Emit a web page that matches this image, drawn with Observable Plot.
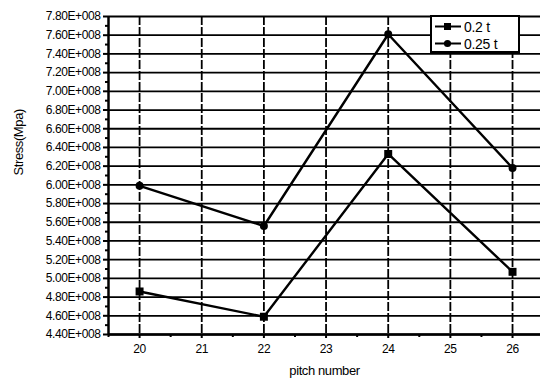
<!DOCTYPE html>
<html><head><meta charset="utf-8">
<script src="https://cdn.jsdelivr.net/npm/d3@7"></script>
<script src="https://cdn.jsdelivr.net/npm/@observablehq/plot@0.6"></script>
<style>
body{margin:0;background:#fff;font-family:"Liberation Sans",Arial,sans-serif;}
#wrap{position:relative;width:540px;height:384px;overflow:hidden;}
#wrap svg text{letter-spacing:-0.4px;}
#legend{position:absolute;left:430px;top:15px;width:90px;height:38px;background:#fff;border:2px solid #000;box-sizing:border-box;font-size:14px;padding:1px 0 0 2px;letter-spacing:-0.3px;}
#legend .row{display:flex;align-items:center;height:17px;}
#legend svg{margin-right:2px;}
</style></head><body>
<div id="wrap"><div id="legend"></div></div>
<script>
const pitch = [20, 22, 24, 26];
const series = ["0.2 t", "0.25 t"];
const stress02 = [4.86e8, 4.59e8, 6.33e8, 5.07e8];
const stress025 = [5.99e8, 5.56e8, 7.61e8, 6.18e8];
const yTicks = d3.range(4.4, 7.81, 0.2).map(v => Math.round(v * 10) / 10 * 1e8);
const yMinor = d3.range(4.5, 7.8, 0.2).map(v => Math.round(v * 10) / 10 * 1e8);
const xTicks = [20, 21, 22, 23, 24, 25, 26];
const xMinor = [19.5, 20.5, 21.5, 22.5, 23.5, 24.5, 25.5];

const rows = [];
pitch.forEach((p, i) => {
  rows.push({pitch: p, stress: stress02[i], s: series[0]});
  rows.push({pitch: p, stress: stress025[i], s: series[1]});
});
const fmt = v => (v / 1e8).toFixed(2) + "E+008";

const chart = Plot.plot({
  width: 540, height: 384,
  marginLeft: 108, marginRight: 0, marginTop: 16, marginBottom: 50,
  style: {fontFamily: "Liberation Sans, Arial, sans-serif", fontSize: "12px", background: "#fff", color: "#000"},
  x: {domain: [19.5, 26.45]},
  y: {domain: [4.4e8, 7.8e8]},
  marks: [
    Plot.ruleY(yTicks, {stroke: "#000", strokeWidth: 1.8}),
    Plot.ruleX(xTicks, {stroke: "#000", strokeWidth: 1.8, strokeDasharray: "9,2"}),
    Plot.ruleX([19.5], {stroke: "#000", strokeWidth: 2.5}),
    Plot.ruleY([4.4e8], {stroke: "#000", strokeWidth: 2.5}),
    Plot.axisY({ticks: yTicks, tickFormat: fmt, tickSize: 5, tickPadding: 3, label: null, fontSize: 12, strokeWidth: 2}),
    Plot.axisY({ticks: yMinor, tickSize: 3, text: null, label: null, strokeWidth: 2}),
    Plot.axisX({ticks: xTicks, tickFormat: d => String(d), tickSize: 4, tickPadding: 6, label: null, fontSize: 12, strokeWidth: 2}),
    Plot.axisX({ticks: xMinor, tickSize: 3, text: null, label: null, strokeWidth: 2}),
    Plot.text(["Stress(Mpa)"], {frameAnchor: "left", dx: -90, rotate: -90, fontSize: 13}),
    Plot.text(["pitch number"], {frameAnchor: "bottom", dy: 40, fontSize: 13}),
    Plot.line(rows, {x: "pitch", y: "stress", z: "s", stroke: "#000", strokeWidth: 2.4}),
    Plot.dot(rows.filter(d => d.s === series[0]), {x: "pitch", y: "stress", symbol: "square", r: 4.5, fill: "#000"}),
    Plot.dot(rows.filter(d => d.s === series[1]), {x: "pitch", y: "stress", symbol: "circle", r: 4, fill: "#000"})
  ]
});
const wrap = document.getElementById("wrap");
wrap.insertBefore(chart, wrap.firstChild);

const legend = document.getElementById("legend");
series.forEach((name, i) => {
  const row = document.createElement("div");
  row.className = "row";
  const marker = i === 0
    ? '<rect x="10" y="3" width="7" height="7" fill="#000"/>'
    : '<circle cx="13.5" cy="6.5" r="3.6" fill="#000"/>';
  row.innerHTML = `<svg width="28" height="13"><line x1="1" y1="6.5" x2="27" y2="6.5" stroke="#000" stroke-width="2"/>${marker}</svg><span>${name}</span>`;
  legend.appendChild(row);
});
</script>
</body></html>
